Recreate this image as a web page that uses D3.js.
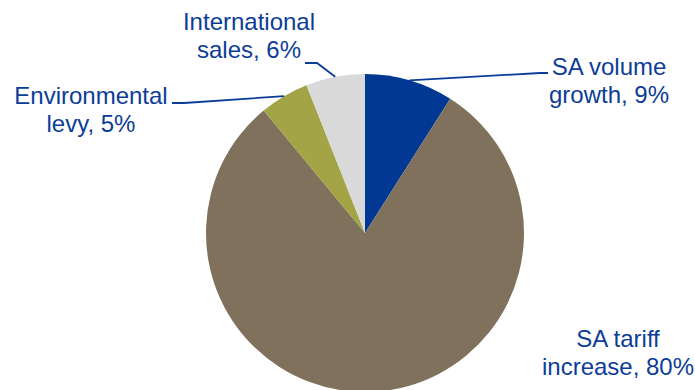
<!DOCTYPE html>
<html>
<head>
<meta charset="utf-8">
<script src="https://cdn.jsdelivr.net/npm/d3@7"></script>
<style>
  html, body { margin: 0; padding: 0; background: #fff; }
  svg { display: block; }
  text { font-family: "Liberation Sans", Arial, sans-serif; }
</style>
</head>
<body>
<svg id="chart" width="695" height="390"></svg>
<script>
// Revenue growth breakdown
const categories = ["SA volume growth", "SA tariff increase", "Environmental levy", "International sales"];
const labelLines = [["SA volume", "growth, 9%"], ["SA tariff", "increase, 80%"], ["Environmental", "levy, 5%"], ["International", "sales, 6%"]];
const shares = [9, 80, 5, 6];
const colors = ["#003893", "#7f715c", "#a3a445", "#d9d9d9"];

const W = 695, H = 390;
const cx = 365, cy = 233, R = 159;
const textColor = "#0d3d97";
const lineColor = "#0a3c99";

// Label placement: text centre, first baseline, and where the leader leaves the text
const labelLayout = [
  { x: 609, y: 75, leader: [[548, 73], [540, 73]] },
  { x: 618, y: 347, leader: null },
  { x: 91, y: 104, leader: [[172, 103], [184, 103]] },
  { x: 249, y: 30, leader: [[305, 63], [317, 63]] }
];

const svg = d3.select("#chart");
const g = svg.append("g").attr("transform", `translate(${cx},${cy})`);

const pie = d3.pie().sort(null).value(d => d)(shares);
const arc = d3.arc().innerRadius(0).outerRadius(R);

g.selectAll("path.slice")
  .data(pie)
  .join("path")
  .attr("class", "slice")
  .attr("d", arc)
  .attr("fill", (d, i) => colors[i]);

// Leader lines from each label to the middle of its slice's rim
pie.forEach((d, i) => {
  const lay = labelLayout[i];
  if (!lay.leader) return;
  const mid = (d.startAngle + d.endAngle) / 2;
  const edge = [cx + R * Math.sin(mid), cy - R * Math.cos(mid)];
  const pts = lay.leader.concat([edge]);
  svg.append("path")
    .attr("d", d3.line()(pts))
    .attr("fill", "none")
    .attr("stroke", lineColor)
    .attr("stroke-width", 1.8);
});

// Labels
labelLayout.forEach((lay, i) => {
  const t = svg.append("text")
    .attr("x", lay.x)
    .attr("y", lay.y)
    .attr("text-anchor", "middle")
    .attr("font-size", 24)
    .attr("fill", textColor);
  labelLines[i].forEach((s, j) => {
    t.append("tspan")
      .attr("x", lay.x)
      .attr("dy", j === 0 ? 0 : 27.5)
      .text(s);
  });
});
</script>
</body>
</html>
